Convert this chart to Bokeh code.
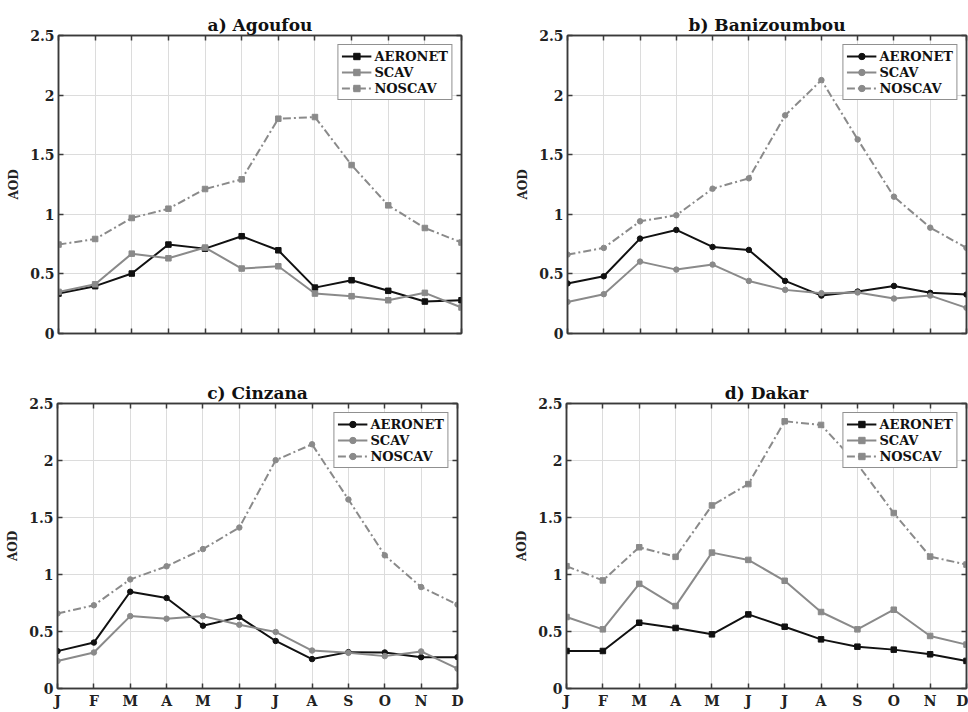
from bokeh.plotting import figure
from bokeh.models import FixedTicker, LinearAxis, CustomJSTickFormatter, Range1d
from bokeh.layouts import column, row
from bokeh.embed import file_html
from bokeh.resources import INLINE

# ---------------- data ----------------
month_labels = ["J", "F", "M", "A", "M", "J", "J", "A", "S", "O", "N", "D"]
month_index = [1, 2, 3, 4, 5, 6, 7, 8, 9, 10, 11, 12]
y_ticks = [0, 0.5, 1, 1.5, 2, 2.5]

agoufou_aeronet = [0.335, 0.397, 0.503, 0.746, 0.712, 0.816, 0.698, 0.385, 0.447, 0.358, 0.268, 0.279]
agoufou_scav = [0.349, 0.413, 0.670, 0.631, 0.721, 0.545, 0.564, 0.335, 0.313, 0.279, 0.341, 0.218]
agoufou_noscav = [0.746, 0.793, 0.969, 1.047, 1.212, 1.293, 1.802, 1.816, 1.413, 1.075, 0.885, 0.763]

banizoumbou_aeronet = [0.420, 0.480, 0.796, 0.869, 0.726, 0.701, 0.441, 0.318, 0.352, 0.399, 0.341, 0.327]
banizoumbou_scav = [0.265, 0.330, 0.603, 0.536, 0.578, 0.441, 0.366, 0.338, 0.344, 0.293, 0.318, 0.215]
banizoumbou_noscav = [0.662, 0.718, 0.941, 0.992, 1.215, 1.302, 1.830, 2.126, 1.628, 1.148, 0.888, 0.718]

cinzana_aeronet = [0.328, 0.403, 0.849, 0.794, 0.551, 0.626, 0.417, 0.258, 0.319, 0.316, 0.275, 0.275]
cinzana_scav = [0.241, 0.316, 0.635, 0.612, 0.635, 0.559, 0.496, 0.333, 0.313, 0.284, 0.325, 0.174]
cinzana_noscav = [0.658, 0.730, 0.957, 1.072, 1.223, 1.412, 2.003, 2.142, 1.658, 1.168, 0.890, 0.736]

dakar_aeronet = [0.329, 0.329, 0.577, 0.531, 0.475, 0.650, 0.542, 0.431, 0.367, 0.341, 0.300, 0.242]
dakar_scav = [0.627, 0.519, 0.918, 0.723, 1.192, 1.128, 0.945, 0.671, 0.519, 0.691, 0.461, 0.385]
dakar_noscav = [1.073, 0.948, 1.239, 1.155, 1.606, 1.793, 2.344, 2.312, 1.968, 1.539, 1.157, 1.087]

series_names = ["AERONET", "SCAV", "NOSCAV"]

# ---------------- style ----------------
FONT = "DejaVu Serif"
FRAME = "#3a3a3a"
BLACK = "#111111"
GRAY = "#8a8a8a"
GRID = "#dcdcdc"


def style_axis(ax, show_labels, formatter=None):
    ax.axis_line_color = FRAME
    ax.axis_line_width = 1.5
    ax.major_tick_line_color = FRAME
    ax.major_tick_line_width = 1.5
    ax.major_tick_in = 5
    ax.major_tick_out = 0
    ax.minor_tick_line_color = None
    ax.major_label_text_font = FONT
    ax.major_label_text_font_style = "bold"
    ax.major_label_text_color = "#222222"
    if show_labels:
        ax.major_label_text_font_size = "14px"
        ax.major_label_standoff = 4
        if formatter is not None:
            ax.formatter = formatter
    else:
        ax.major_label_text_font_size = "2px"
        ax.major_label_standoff = 0
        ax.formatter = CustomJSTickFormatter(code="return '';")


def make_panel(title, aer, scav, nos, marker, width, height, borders, show_x):
    left, right, top, bottom = borders
    p = figure(width=width, height=height, output_backend="svg", toolbar_location=None,
               x_range=Range1d(1, 12), y_range=Range1d(0, 2.5),
               min_border_left=left, min_border_right=right,
               min_border_top=top, min_border_bottom=bottom)
    p.background_fill_color = "white"
    p.border_fill_color = "white"
    p.outline_line_color = FRAME
    p.outline_line_width = 1.5

    p.title.text = title
    p.title.align = "center"
    p.title.text_font = FONT
    p.title.text_font_size = "17px"
    p.title.text_font_style = "bold"
    p.title.text_color = "#111111"
    p.title.standoff = 2

    xt = FixedTicker(ticks=month_index)
    yt = FixedTicker(ticks=y_ticks)
    xlab = {i: m for i, m in zip(month_index, month_labels)}
    yfmt = CustomJSTickFormatter(code="return String(tick);")

    p.xaxis.ticker = xt
    style_axis(p.xaxis[0], show_x)
    if show_x:
        p.xaxis.major_label_overrides = xlab
    p.yaxis.ticker = yt
    style_axis(p.yaxis[0], True, yfmt)
    p.yaxis.axis_label = "AOD"
    p.yaxis.axis_label_text_font = FONT
    p.yaxis.axis_label_text_font_size = "12px"
    p.yaxis.axis_label_text_font_style = "bold"
    p.yaxis.axis_label_text_color = "#222222"
    p.yaxis.axis_label_standoff = 6

    top_ax = LinearAxis(ticker=FixedTicker(ticks=month_index))
    style_axis(top_ax, False)
    p.add_layout(top_ax, "above")
    right_ax = LinearAxis(ticker=FixedTicker(ticks=y_ticks))
    style_axis(right_ax, False)
    p.add_layout(right_ax, "right")

    p.xgrid.ticker = xt
    p.ygrid.ticker = yt
    p.grid.grid_line_color = GRID
    p.grid.grid_line_width = 1

    specs = [(aer, BLACK, "solid"), (scav, GRAY, "solid"), (nos, GRAY, "8 3 2 3")]
    for name, (vals, col, dash) in zip(series_names, specs):
        p.line(month_index, vals, line_color=col, line_width=2, line_dash=dash, legend_label=name)
        p.scatter(month_index, vals, marker=marker, size=5.5, fill_color=col, line_color=col,
                  legend_label=name)

    lg = p.legend[0]
    lg.location = "top_right"
    lg.margin = 9
    lg.padding = 3
    lg.spacing = 0
    lg.glyph_width = 30
    lg.glyph_height = 16
    lg.label_height = 16
    lg.label_standoff = 3
    lg.label_text_font = FONT
    lg.label_text_font_size = "13px"
    lg.label_text_font_style = "bold"
    lg.label_text_color = "#111111"
    lg.border_line_color = "#222222"
    lg.border_line_width = 1.5
    lg.background_fill_color = "white"
    lg.background_fill_alpha = 1
    return p


pa = make_panel("a) Agoufou", agoufou_aeronet, agoufou_scav, agoufou_noscav, "square",
                484, 342, (58, 23, 35, 9), False)
pb = make_panel("b) Banizoumbou", banizoumbou_aeronet, banizoumbou_scav, banizoumbou_noscav, "circle",
                484, 342, (83, 2, 35, 9), False)
pc = make_panel("c) Cinzana", cinzana_aeronet, cinzana_scav, cinzana_noscav, "circle",
                484, 370, (57, 27, 60, 22), True)
pd = make_panel("d) Dakar", dakar_aeronet, dakar_scav, dakar_noscav, "square",
                484, 370, (82, 2, 61, 24), True)

layout = column(row(pa, pb), row(pc, pd))

open("out.html", "w").write(file_html(layout, INLINE))
